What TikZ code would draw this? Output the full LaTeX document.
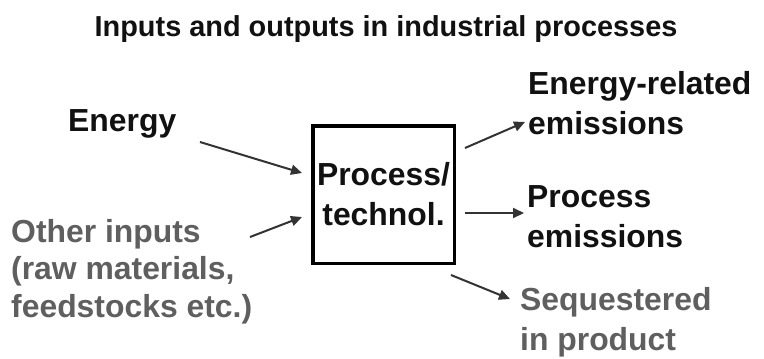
\documentclass[tikz,border=0pt]{standalone}
\usepackage{fontspec}
\setmainfont{Liberation Sans}
\usetikzlibrary{arrows.meta}
\definecolor{txtblack}{HTML}{111111}
\definecolor{txtgray}{HTML}{5F5F5F}
\definecolor{arrgray}{HTML}{333333}
\begin{document}
\begin{tikzpicture}[x=1bp,y=-1bp,
  lbl/.style={font=\bfseries\fontsize{32}{40}\selectfont, inner sep=0pt, anchor=base west, align=left},
  blk/.style={lbl, text=txtblack},
  gry/.style={lbl, text=txtgray},
  arr/.style={draw=arrgray, line width=2bp, -{Triangle[length=11bp,width=10bp]}}]
\useasboundingbox (0,0) rectangle (764,358);
\fill[white] (0,0) rectangle (764,358);

\node[font=\bfseries\fontsize{29}{34}\selectfont, inner sep=0pt, anchor=base, text=txtblack] (title) at (386,36) {Inputs and outputs in industrial processes};

\node[draw=black, line width=3.5bp, minimum width=141.5bp, minimum height=137.5bp, inner sep=0pt,
      align=center, text=txtblack, font=\bfseries\fontsize{32}{40}\selectfont] (box) at (383.5,194.5) {Process/\\technol.};

\node[blk] (energy) at (68,131) {Energy};
\node[gry, font=\bfseries\fontsize{32}{37.5}\selectfont] (other) at (11,317) {Other inputs\\(raw materials,\\feedstocks etc.)};
\node[blk] (enrel) at (528,134) {Energy-related\\emissions};
\node[blk] (procem) at (527,247) {Process\\emissions};
\node[gry] (seq) at (520,350) {Sequestered\\in product};

\coordinate (a1s) at (200,142); \coordinate (a1e) at (302,173);
\coordinate (a2s) at (250,237); \coordinate (a2e) at (302,217);
\coordinate (a3s) at (465,148); \coordinate (a3e) at (525,122);
\coordinate (a4s) at (465,213); \coordinate (a4e) at (524,213);
\coordinate (a5s) at (451,275); \coordinate (a5e) at (510,299);

\draw[arr] (a1s) -- (a1e);
\draw[arr] (a2s) -- (a2e);
\draw[arr] (a3s) -- (a3e);
\draw[arr] (a4s) -- (a4e);
\draw[arr] (a5s) -- (a5e);
\end{tikzpicture}
\end{document}
